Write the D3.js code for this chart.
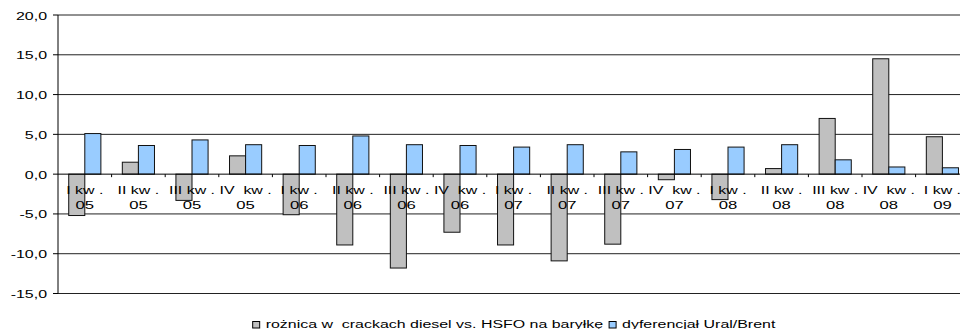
<!DOCTYPE html>
<html>
<head>
<meta charset="utf-8">
<script src="https://cdn.jsdelivr.net/npm/d3@7"></script>
<style>
  html, body { margin: 0; padding: 0; background: #fff; }
  svg { display: block; }
  text { font-family: "Liberation Sans", Arial, sans-serif; fill: #000; white-space: pre; }
</style>
</head>
<body>
<svg id="chart" width="960" height="329"></svg>
<script>
// Quarterly data, 2005 Q1 – 2009 Q1
const quarters = ["I kw .", "II kw .", "III kw .", "IV  kw .", "I kw .", "II kw .", "III kw .", "IV  kw .",
                  "I kw .", "II kw .", "III kw .", "IV  kw .", "I kw .", "II kw .", "III kw .", "IV  kw .", "I kw ."];
const years = ["05", "05", "05", "05", "06", "06", "06", "06", "07", "07", "07", "07", "08", "08", "08", "08", "09"];
const seriesNames = ["rożnica w  crackach diesel vs. HSFO na baryłkę", "dyferencjał Ural/Brent"];
const crackDiff = [-5.2, 1.5, -3.3, 2.3, -5.1, -8.9, -11.8, -7.3, -8.9, -10.9, -8.8, -0.7, -3.2, 0.7, 7.0, 14.5, 4.7];
const uralBrent = [5.1, 3.6, 4.3, 3.7, 3.6, 4.8, 3.7, 3.6, 3.4, 3.7, 2.8, 3.1, 3.4, 3.7, 1.8, 0.9, 0.8];
const yTicks = [20, 15, 10, 5, 0, -5, -10, -15];
const seriesColors = ["#C0C0C0", "#99CCFF"];

const svg = d3.select("#chart");
const sx = 1.45; // horizontal text stretch

const categories = quarters.map((q, i) => i);
const rows = categories.map(i => ({ i, values: [crackDiff[i], uralBrent[i]] }));

const left = 58, step = 53.6;
const x0 = d3.scaleBand().domain(categories).range([left, left + step * categories.length]).padding(0);
const bw = x0.bandwidth();
const x1 = d3.scaleBand().domain([0, 1]).range([bw * 0.2, bw * 0.8]).padding(0);
const y = d3.scaleLinear().domain([20, -15]).range([15, 293.5]);

const fmt = d3.formatLocale({ decimal: ",", thousands: " ", grouping: [3], currency: ["", ""], minus: "-" }).format(".1f");

// gridlines
svg.append("g").selectAll("line").data(yTicks.filter(v => v !== 0)).join("line")
  .attr("x1", left).attr("x2", 960)
  .attr("y1", d => y(d)).attr("y2", d => y(d))
  .attr("stroke", "#222").attr("stroke-width", 1);

// y axis line and ticks
svg.append("line").attr("x1", left).attr("x2", left).attr("y1", y(20)).attr("y2", y(-15))
  .attr("stroke", "#000");
svg.append("g").selectAll("line").data(yTicks).join("line")
  .attr("x1", left - 5).attr("x2", left)
  .attr("y1", d => y(d)).attr("y2", d => y(d))
  .attr("stroke", "#000");
svg.append("g").selectAll("text").data(yTicks).join("text")
  .attr("transform", d => `translate(47,${y(d) + 4.5}) scale(${sx},1)`)
  .attr("text-anchor", "end").attr("font-size", 11)
  .text(d => fmt(d));

// bars
const groups = svg.append("g").selectAll("g").data(rows).join("g")
  .attr("transform", d => `translate(${x0(d.i)},0)`);
groups.selectAll("rect").data(d => d.values.map((v, k) => ({ v, k }))).join("rect")
  .attr("x", d => x1(d.k))
  .attr("width", x1.bandwidth())
  .attr("y", d => y(Math.max(0, d.v)))
  .attr("height", d => Math.abs(y(d.v) - y(0)))
  .attr("fill", d => seriesColors[d.k])
  .attr("stroke", "#111").attr("stroke-width", 1);

// category axis at zero
svg.append("line").attr("x1", left).attr("x2", 960).attr("y1", y(0)).attr("y2", y(0))
  .attr("stroke", "#000");
svg.append("g").selectAll("line").data(categories.slice(1)).join("line")
  .attr("x1", d => x0(d)).attr("x2", d => x0(d))
  .attr("y1", y(0)).attr("y2", y(0) + 3)
  .attr("stroke", "#000");

// category labels (two lines)
const labels = svg.append("g").selectAll("g").data(categories).join("g")
  .attr("transform", d => `translate(${x0(d) + bw / 2},0)`);
labels.append("text")
  .attr("transform", `translate(0,${y(0) + 20}) scale(${sx},1)`)
  .attr("text-anchor", "middle").attr("font-size", 11)
  .text(d => quarters[d]);
labels.append("text")
  .attr("transform", `translate(0,${y(0) + 35}) scale(${sx},1)`)
  .attr("text-anchor", "middle").attr("font-size", 11.5)
  .text(d => years[d]);

// legend
const legend = svg.append("g");
const items = legend.selectAll("g").data(seriesNames).join("g");
items.append("rect").attr("width", 7).attr("height", 6.5).attr("y", 321.5)
  .attr("fill", (d, i) => seriesColors[i]).attr("stroke", "#000").attr("stroke-width", 1);
items.append("text")
  .attr("transform", `translate(13,328) scale(${sx},1)`)
  .attr("font-size", 11)
  .text(d => d);
let cx = 0;
const widths = [];
items.each(function () {
  const w = 13 + this.querySelector("text").getComputedTextLength() * sx;
  widths.push(w);
});
const total = widths.reduce((a, b) => a + b, 0) + 6 * (widths.length - 1);
let start = 514 - total / 2;
items.attr("transform", (d, i) => {
  const t = `translate(${start},0)`;
  start += widths[i] + 6;
  return t;
});
</script>
</body>
</html>
